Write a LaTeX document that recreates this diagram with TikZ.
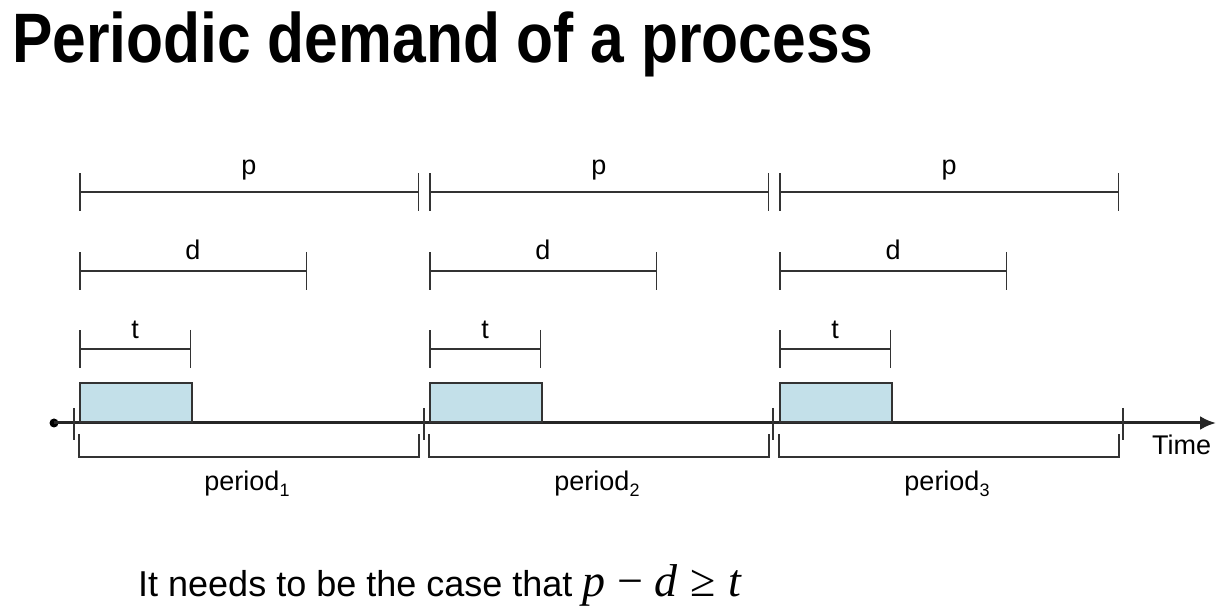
\documentclass[tikz,border=0pt]{standalone}
\usepackage{fontspec}
\setmainfont{Liberation Sans}
\newfontfamily\mathserif{Liberation Serif}
\usetikzlibrary{arrows.meta}
\definecolor{lineclr}{HTML}{333333}
\definecolor{boxfill}{HTML}{C3E0E9}
\begin{document}
\begin{tikzpicture}[x=1pt,y=-1pt,
  measure/.style={draw=lineclr, line width=1.5pt, {Bar[width=38pt,line width=1.5pt]}-{Bar[width=38pt,line width=1.5pt]}},
  lbl/.style={font=\fontsize{27}{27}\selectfont, anchor=base, inner sep=0pt},
  taskbox/.style={draw=lineclr, line width=1.5pt, fill=boxfill, inner sep=0pt, minimum width=112pt, minimum height=39pt, anchor=south west},
  axisline/.style={draw=black!85, line width=3pt, -{Latex[length=16pt,width=14pt]}},
  axtick/.style={draw=lineclr, line width=1.5pt},
  bracketline/.style={draw=lineclr, line width=1.5pt}]
\useasboundingbox (0,0) rectangle (1224,609);
% title
\node[anchor=base west, inner sep=0pt, font=\bfseries\fontsize{70}{70}\selectfont] (title) at (12,63) {\scalebox{0.865}[1]{Periodic demand of a process}};
% axis
\node[circle, fill=black, minimum size=9pt, inner sep=0pt] (origin) at (54,423) {};
\coordinate (axend) at (1216,423);
\draw[axisline] (origin.center) -- (axend);
\foreach \x [count=\k] in {74,424,773,1123} {
  \coordinate (tka\k) at (\x,408);
  \coordinate (tkb\k) at (\x,440);
  \draw[axtick] (tka\k) -- (tkb\k);
}
\node[anchor=base west, inner sep=0pt, font=\fontsize{27}{27}\selectfont] (time) at (1152,455) {Time};
% periods
\foreach \i in {0,1,2} {
  \pgfmathsetmacro\o{350*\i}
  \pgfmathtruncatemacro\n{\i+1}
  % p
  \coordinate (ps\i) at ({79+\o},192);
  \coordinate (pe\i) at ({419+\o},192);
  \draw[measure] (ps\i) -- (pe\i);
  \node[lbl] (plbl\i) at ({249+\o},175) {p};
  % d
  \coordinate (ds\i) at ({79+\o},271);
  \coordinate (de\i) at ({307+\o},271);
  \draw[measure] (ds\i) -- (de\i);
  \node[lbl] (dlbl\i) at ({193+\o},260) {d};
  % t
  \coordinate (ts\i) at ({79+\o},349);
  \coordinate (te\i) at ({191+\o},349);
  \draw[measure] (ts\i) -- (te\i);
  \node[lbl] (tlbl\i) at ({135+\o},339) {t};
  % task box
  \node[taskbox] (task\i) at ({79+\o},423) {};
  % period bracket
  \coordinate (bs\i) at ({79+\o},434);
  \coordinate (be\i) at ({419+\o},434);
  \draw[bracketline] (bs\i) |- ({419+\o},457) -- (be\i);
  \node[lbl] (per\i) at ({247+\o},490) {period\raisebox{-6pt}{\fontsize{18}{18}\selectfont\n}};
}
% condition
\node[anchor=base west, inner sep=0pt, font=\fontsize{36}{36}\selectfont] (cond) at (138,596)
  {It needs to be the case that {\mathserif\fontsize{46}{46}\selectfont\itshape p\hspace{0.25em}\upshape−\hspace{0.25em}\itshape d\hspace{0.28em}\upshape≥\hspace{0.28em}\itshape t}};
\end{tikzpicture}
\end{document}
